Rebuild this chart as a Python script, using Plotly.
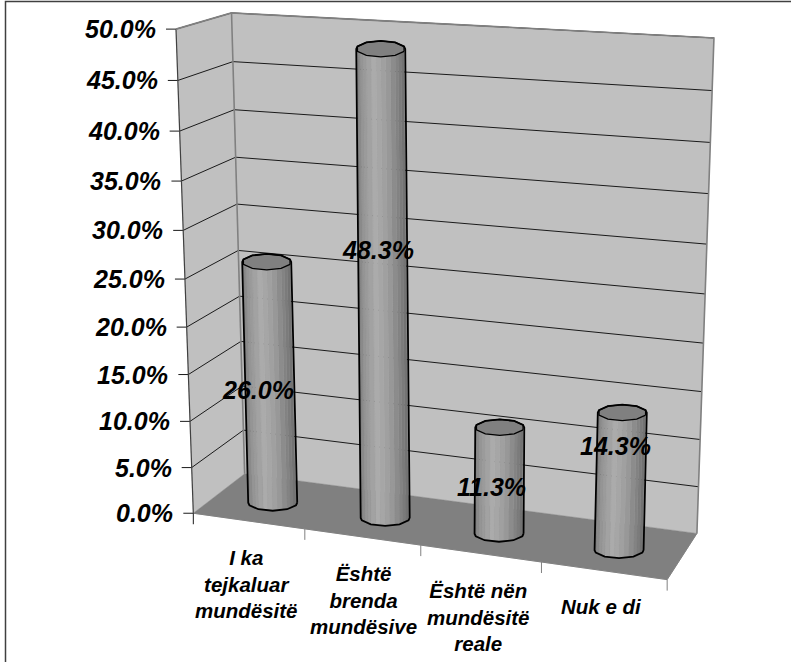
import numpy as np
import plotly.graph_objects as go

# Chart data
categories = ["I ka<br>tejkaluar<br>mundësitë", "Është<br>brenda<br>mundësive",
              "Është nën<br>mundësitë<br>reale", "Nuk e di"]
shares = [26.0, 48.3, 11.3, 14.3]
share_labels = ["26.0%", "48.3%", "11.3%", "14.3%"]
value_ticks = [0, 5, 10, 15, 20, 25, 30, 35, 40, 45, 50]
value_tick_labels = ["0.0%", "5.0%", "10.0%", "15.0%", "20.0%", "25.0%",
                     "30.0%", "35.0%", "40.0%", "45.0%", "50.0%"]
VALUE_MAX = 50.0

# Box corners (category, value, depth) and where they land on the page
box_corners = [(0, 0, 0), (1, 0, 0), (0, 0, 1), (1, 0, 1), (0, 1, 1), (1, 1, 1), (0, 1, 0)]
page_corners = [(193, 513), (667, 580), (245, 474), (697, 533), (231, 13), (714, 38), (176.5, 29)]

# Label anchors relative to the bars and the category axis
label_pos = [(258, 390), (378, 250), (491, 487), (615, 446)]
cat_dx = [-2.5, 1, -2, -2]
cat_dy = [24, 24, 25, 23]
bar_dx = [2, 3, 1, 0.5]

FONT = "Liberation Sans, Arial, sans-serif"
WALL, FLOOR, EDGE = "#c0c0c0", "#808080", "#808080"
BAR_DEPTH, BAR_RX, BAR_RY = 0.44, 24.5, 8.0


def fit_projection(src, dst):
    rows = []
    for (a, b, c), (x, y) in zip(src, dst):
        p = [a, b, c, 1.0]
        rows.append(p + [0, 0, 0, 0] + [-x * q for q in p])
        rows.append([0, 0, 0, 0] + p + [-y * q for q in p])
    return np.linalg.svd(np.array(rows, float))[2][-1].reshape(3, 4)


P = fit_projection(box_corners, page_corners)


def project(u, val, d):
    """Category fraction, value in percent and depth fraction to page position."""
    h = P @ np.array([u, val / VALUE_MAX, d, 1.0])
    return float(h[0] / h[2]), float(h[1] / h[2])


def polygon(points, fill, line=None, width=1.0):
    xs, ys = zip(*points)
    return go.Scatter(x=list(xs) + [xs[0]], y=list(ys) + [ys[0]], mode="lines",
                      fill="toself", fillcolor=fill,
                      line=dict(color=line or fill, width=width if line else 0.4),
                      hoverinfo="skip", showlegend=False)


def polyline(points, color, width=1.0):
    xs, ys = zip(*points)
    return go.Scatter(x=list(xs), y=list(ys), mode="lines",
                      line=dict(color=color, width=width),
                      hoverinfo="skip", showlegend=False)


def shade(t):
    """Grey for a band, t running 0 (left side) to 1 (right side) of a bar."""
    level = np.interp(t, [0, 0.12, 0.35, 0.6, 0.85, 1], [128, 150, 172, 158, 128, 108])
    g = int(level)
    return f"rgb({g},{g},{g})"


traces = []

# Walls and floor
traces.append(polygon([project(0, 0, 0), project(0, VALUE_MAX, 0),
                       project(0, VALUE_MAX, 1), project(0, 0, 1)], WALL))
traces.append(polygon([project(0, 0, 1), project(0, VALUE_MAX, 1),
                       project(1, VALUE_MAX, 1), project(1, 0, 1)], WALL))
traces.append(polygon([project(0, 0, 0), project(1, 0, 0),
                       project(1, 0, 1), project(0, 0, 1)], FLOOR))

# Gridlines across both walls, with their tick marks
for v in value_ticks:
    front = project(0, v, 0)
    if v > 0:
        traces.append(polyline([front, project(0, v, 1), project(1, v, 1)], "#1a1a1a", 1.0))
    traces.append(polyline([(front[0] - 10, front[1]), front], "#1a1a1a", 1.0))

# Wall edges
traces.append(polyline([project(0, 0, 0), project(0, VALUE_MAX, 0)], "#404040", 1.2))
traces.append(polyline([project(0, VALUE_MAX, 0), project(0, VALUE_MAX, 1),
                        project(1, VALUE_MAX, 1), project(1, 0, 1)], EDGE, 1.6))
traces.append(polyline([project(0, VALUE_MAX, 1), project(0, 0, 1)], EDGE, 1.6))
traces.append(polyline([project(0, 0, 0), project(1, 0, 0), project(1, 0, 1)], FLOOR, 1.0))

# Category tick marks under the floor's front edge
n_cat = len(categories)
for i in range(n_cat + 1):
    x0, y0 = project(i / n_cat, 0, 0)
    traces.append(polyline([(x0, y0), (x0, y0 + 11)], "#1a1a1a" if i == 0 else EDGE, 1.0))

# Faceted cylinders: rings are flat on the page around each bar's projected axis
SIDES, SUB = 10, 3
angles = np.linspace(0, 2 * np.pi, SIDES, endpoint=False) + np.pi / SIDES
unit_ring = [(float(np.cos(a)), float(np.sin(a))) for a in angles]
for i, val in enumerate(shares):
    uc = (i + 0.5) / n_cat
    tx, ty = project(uc, val, BAR_DEPTH)
    bx, by = project(uc, 0, BAR_DEPTH)
    tx += bar_dx[i]
    bx += bar_dx[i]
    top_ring = [(tx + BAR_RX * c, ty + BAR_RY * s) for c, s in unit_ring]
    bot_ring = [(bx + BAR_RX * c, by + BAR_RY * s) for c, s in unit_ring]

    # Visible half of the side, drawn as narrow shaded bands
    for k in range(SIDES):
        j = (k + 1) % SIDES
        if unit_ring[k][1] + unit_ring[j][1] < 0:
            continue
        for s in range(SUB):
            f0, f1 = s / SUB, (s + 1) / SUB
            c0 = unit_ring[k][0] + (unit_ring[j][0] - unit_ring[k][0]) * f0
            s0 = unit_ring[k][1] + (unit_ring[j][1] - unit_ring[k][1]) * f0
            c1 = unit_ring[k][0] + (unit_ring[j][0] - unit_ring[k][0]) * f1
            s1 = unit_ring[k][1] + (unit_ring[j][1] - unit_ring[k][1]) * f1
            quad = [(bx + BAR_RX * c0, by + BAR_RY * s0), (bx + BAR_RX * c1, by + BAR_RY * s1),
                    (tx + BAR_RX * c1, ty + BAR_RY * s1), (tx + BAR_RX * c0, ty + BAR_RY * s0)]
            traces.append(polygon(quad, shade((1 + (c0 + c1) / 2) / 2)))

    # Silhouette: lower half of the base ring, then up and over the top ring
    base = [bot_ring[n] for n in sorted(range(SIDES), key=lambda n: -unit_ring[n][0])
            if unit_ring[n][1] >= 0]
    crown = [top_ring[n] for n in sorted(range(SIDES), key=lambda n: unit_ring[n][0])
             if unit_ring[n][1] <= 0]
    outline = [(bx + BAR_RX, by)] + base + [(bx - BAR_RX, by), (tx - BAR_RX, ty)] \
        + crown + [(tx + BAR_RX, ty), (bx + BAR_RX, by)]
    traces.append(polygon(top_ring, "#808080", "#000000", 1.3))
    traces.append(polyline(outline, "#000000", 1.8))

# Axis text
annotations = []
for v, text in zip(value_ticks, value_tick_labels):
    fx, fy = project(0, v, 0)
    annotations.append(dict(x=fx - 19, y=fy, text=f"<b><i>{text}</i></b>", xanchor="right",
                            yanchor="middle", font=dict(family=FONT, size=25, color="#000")))
for i, text in enumerate(categories):
    fx, fy = project((i + 0.5) / n_cat, 0, 0)
    annotations.append(dict(x=fx + cat_dx[i], y=fy + cat_dy[i], text=f"<b><i>{text}</i></b>",
                            xanchor="center", yanchor="top", align="center",
                            font=dict(family=FONT, size=20.5, color="#000")))
for (lx, ly), text in zip(label_pos, share_labels):
    annotations.append(dict(x=lx, y=ly, text=f"<b><i>{text}</i></b>", xanchor="center",
                            yanchor="middle", font=dict(family=FONT, size=25, color="#000")))
for a in annotations:
    a.update(xref="x", yref="y", showarrow=False, borderpad=0)

fig = go.Figure(traces)
fig.update_layout(
    width=791, height=662, margin=dict(l=0, r=0, t=0, b=0),
    paper_bgcolor="#ffffff", plot_bgcolor="#ffffff", showlegend=False,
    xaxis=dict(range=[0, 791], visible=False, fixedrange=True),
    yaxis=dict(range=[662, 0], visible=False, fixedrange=True),
    annotations=annotations,
    shapes=[dict(type="path", path="M 5.5 662 L 5.5 1.5 L 791 1.5", xref="x", yref="y",
                 line=dict(color="#404040", width=1.5))],
)
fig.write_html("out.html", config={"displayModeBar": False})
